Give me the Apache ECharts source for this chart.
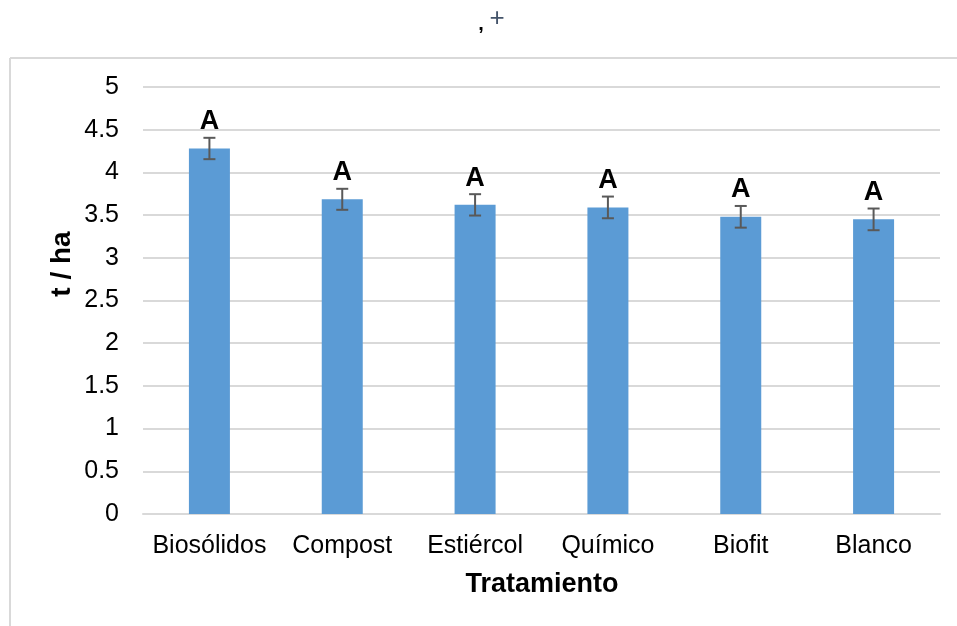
<!DOCTYPE html>
<html>
<head>
<meta charset="utf-8">
<script src="https://cdn.jsdelivr.net/npm/echarts@6/dist/echarts.min.js"></script>
<style>
html,body{margin:0;padding:0;background:#fff;}
#chart{width:957px;height:626px;}
</style>
</head>
<body>
<div id="chart"></div>
<script>
const categories = ['Biosólidos', 'Compost', 'Estiércol', 'Químico', 'Biofit', 'Blanco'];
const values = [4.28, 3.685, 3.62, 3.59, 3.48, 3.45];
const errors = [0.125, 0.123, 0.125, 0.127, 0.127, 0.127];
const letters = ['A', 'A', 'A', 'A', 'A', 'A'];
const yTicks = [0, 0.5, 1, 1.5, 2, 2.5, 3, 3.5, 4, 4.5, 5];

const FONT = '"Liberation Sans", Arial, sans-serif';
const chart = echarts.init(document.getElementById('chart'), null, {renderer: 'canvas'});

const errData = categories.map((c, i) => [i, values[i] + errors[i], values[i] - errors[i], letters[i]]);

chart.setOption({
  animation: false,
  backgroundColor: '#fff',
  grid: {left: 143, right: 17, top: 87, bottom: 112, containLabel: false},
  xAxis: {
    type: 'category',
    data: categories,
    axisLine: {show: true, lineStyle: {color: '#d9d9d9', width: 2}},
    axisTick: {show: false},
    axisLabel: {color: '#000', fontFamily: FONT, fontSize: 25, margin: 20, interval: 0, hideOverlap: false}
  },
  yAxis: {
    type: 'value',
    min: yTicks[0],
    max: yTicks[yTicks.length - 1],
    interval: 0.5,
    axisLine: {show: false},
    axisTick: {show: false},
    splitLine: {lineStyle: {color: '#d9d9d9', width: 2}},
    axisLabel: {color: '#000', fontFamily: FONT, fontSize: 25, margin: 24}
  },
  graphic: [
    {type: 'line', shape: {x1: 10, y1: 58, x2: 957, y2: 58}, style: {stroke: '#d9d9d9', lineWidth: 2}},
    {type: 'line', shape: {x1: 10, y1: 58, x2: 10, y2: 626}, style: {stroke: '#d9d9d9', lineWidth: 2}},
    {type: 'text', x: 481, y: 24, style: {text: ',', font: 'bold 20px ' + FONT, fill: '#000', align: 'center', verticalAlign: 'middle'}},
    {type: 'text', x: 497, y: 19, style: {text: '+', font: '26px ' + FONT, fill: '#44546A', align: 'center', verticalAlign: 'middle'}},
    {type: 'text', x: 542, y: 585, style: {text: 'Tratamiento', font: 'bold 27px ' + FONT, fill: '#000', align: 'center', verticalAlign: 'middle'}},
    {type: 'text', x: 62, y: 264, rotation: Math.PI / 2, style: {text: 't / ha', font: 'bold 28px ' + FONT, fill: '#000', align: 'center', verticalAlign: 'middle'}}
  ],
  series: [
    {
      type: 'bar',
      data: values,
      barWidth: 41,
      itemStyle: {color: '#5B9BD5'}
    },
    {
      type: 'custom',
      data: errData,
      z: 10,
      renderItem: function (params, api) {
        const hi = api.coord([api.value(0), api.value(1)]);
        const lo = api.coord([api.value(0), api.value(2)]);
        const x = hi[0];
        const cap = 6;
        const st = {stroke: '#595959', lineWidth: 2};
        return {
          type: 'group',
          children: [
            {type: 'line', shape: {x1: x, y1: hi[1], x2: x, y2: lo[1]}, style: st},
            {type: 'line', shape: {x1: x - cap, y1: hi[1], x2: x + cap, y2: hi[1]}, style: st},
            {type: 'line', shape: {x1: x - cap, y1: lo[1], x2: x + cap, y2: lo[1]}, style: st},
            {type: 'text', x: x, y: hi[1] - 16, style: {text: api.value(3), font: 'bold 27px ' + FONT, fill: '#000', align: 'center', verticalAlign: 'middle'}}
          ]
        };
      }
    }
  ]
});
</script>
</body>
</html>
